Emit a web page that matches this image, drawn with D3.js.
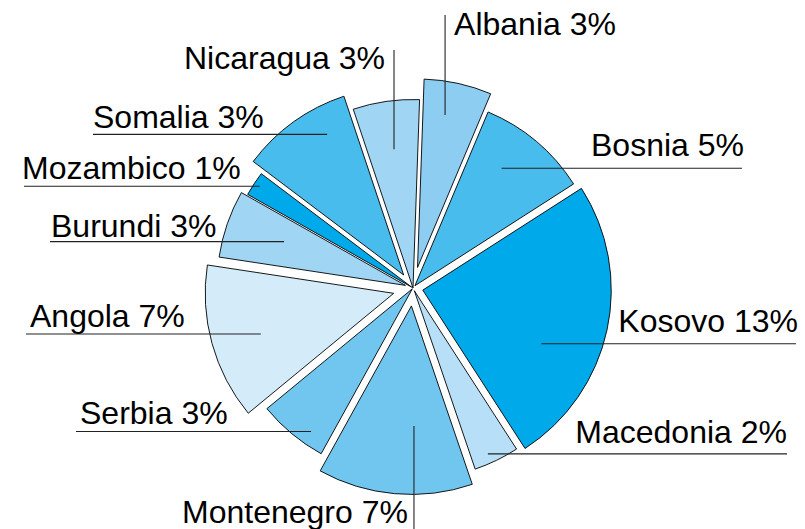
<!DOCTYPE html>
<html>
<head>
<meta charset="utf-8">
<script src="https://cdn.jsdelivr.net/npm/d3@7"></script>
<style>
  body { margin: 0; background: #fff; }
  svg text { font-family: "Liberation Sans", Arial, sans-serif; }
</style>
</head>
<body>
<svg></svg>
<script>
const width = 805,
      height = 529,
      cx = 413,          // pie centre
      cy = 288,
      R = 188.5,         // slice radius
      startDeg = 2;      // first slice starts just right of 12 o'clock

// data
const countries = ['Albania', 'Bosnia', 'Kosovo', 'Macedonia', 'Montenegro', 'Serbia',
                   'Angola', 'Burundi', 'Mozambico', 'Somalia', 'Nicaragua'];
const percents  = [3, 5, 13, 2, 7, 3, 7, 3, 1, 3, 3];              // printed labels
const shares    = [2.9, 4.8, 12.5, 1.95, 6.65, 3.0, 6.7, 2.9, 1.05, 4.8, 2.85]; // slice sizes
const colors    = ['#8dcdf2', '#48bced', '#00a9ea', '#b7dff7', '#71c6f0', '#71c6f0',
                   '#d4ebfa', '#a0d5f4', '#00a9ea', '#48bced', '#a0d5f4'];

// layout: how far each slice is pulled out, and where its leader goes
const explode = [21, 3, 10, 3, 18, 1, 20, 8, 1.5, 16, 0];
const leaders = [
  { ang: 10.5,  r: 176, dir: 'v', end: 15,  tx: 9,   ty: 20,  anchor: 'start' }, // Albania
  { ang: 36.5,  r: 149, dir: 'h', end: 742, tx: 2,   ty: -12, anchor: 'end' },   // Bosnia
  { ang: 113.5, r: 140, dir: 'h', end: 796, tx: 2,   ty: -12, anchor: 'end' },   // Kosovo
  { ang: 155.7, r: 182, dir: 'h', end: 787, tx: 0,   ty: -11, anchor: 'end' },   // Macedonia
  { ang: 179.6, r: 138, dir: 'v', end: 529, tx: -6,  ty: -6,  anchor: 'end' },   // Montenegro
  { ang: 215.4, r: 176, dir: 'h', end: 76,  tx: 4,   ty: -7,  anchor: 'start' }, // Serbia
  { ang: 253.2, r: 159, dir: 'h', end: 26,  tx: 4,   ty: -7,  anchor: 'start' }, // Angola
  { ang: 289.8, r: 137, dir: 'h', end: 50,  tx: 1,   ty: -5,  anchor: 'start' }, // Burundi
  { ang: 303.6, r: 184, dir: 'h', end: 24,  tx: -2,  ty: -7,  anchor: 'start' }, // Mozambico
  { ang: 330.8, r: 176, dir: 'h', end: 93,  tx: 0,   ty: -6,  anchor: 'start' }, // Somalia
  { ang: 352.2, r: 140, dir: 'v', end: 50,  tx: -9,  ty: 19,  anchor: 'end' }    // Nicaragua
];

const rad = Math.PI / 180;

let svg = d3.select('svg')
  .attr('width', width)
  .attr('height', height);

let pie = d3.pie()
  .sort(null)
  .value(d => d)
  .startAngle(startDeg * rad)
  .endAngle(startDeg * rad + 2 * Math.PI);

let arc = d3.arc()
  .innerRadius(0)
  .outerRadius(R);

let slices = svg.append('g')
  .selectAll('path')
  .data(pie(shares))
  .enter().append('path')
  .attr('d', arc)
  .attr('fill', (d, i) => colors[i])
  .attr('stroke', '#000')
  .attr('stroke-width', 0.9)
  .attr('stroke-linejoin', 'miter')
  .attr('transform', (d, i) => {
    const mid = (d.startAngle + d.endAngle) / 2;
    return 'translate(' + [cx + explode[i] * Math.sin(mid), cy - explode[i] * Math.cos(mid)] + ')';
  });

// leader lines + labels
let labels = svg.append('g')
  .selectAll('g')
  .data(leaders)
  .enter().append('g');

labels.each(function(l, i) {
  const g = d3.select(this);
  const ax = cx + l.r * Math.sin(l.ang * rad),
        ay = cy - l.r * Math.cos(l.ang * rad);
  const ex = l.dir === 'h' ? l.end : ax,
        ey = l.dir === 'h' ? ay : l.end;

  g.append('line')
    .attr('x1', ax).attr('y1', ay)
    .attr('x2', ex).attr('y2', ey)
    .attr('stroke', '#222')
    .attr('stroke-width', 1.1);

  g.append('text')
    .attr('x', ex + l.tx)
    .attr('y', ey + l.ty)
    .attr('text-anchor', l.anchor)
    .attr('font-size', 32)
    .attr('fill', '#000')
    .text(countries[i] + ' ' + percents[i] + '%');
});
</script>
</body>
</html>
